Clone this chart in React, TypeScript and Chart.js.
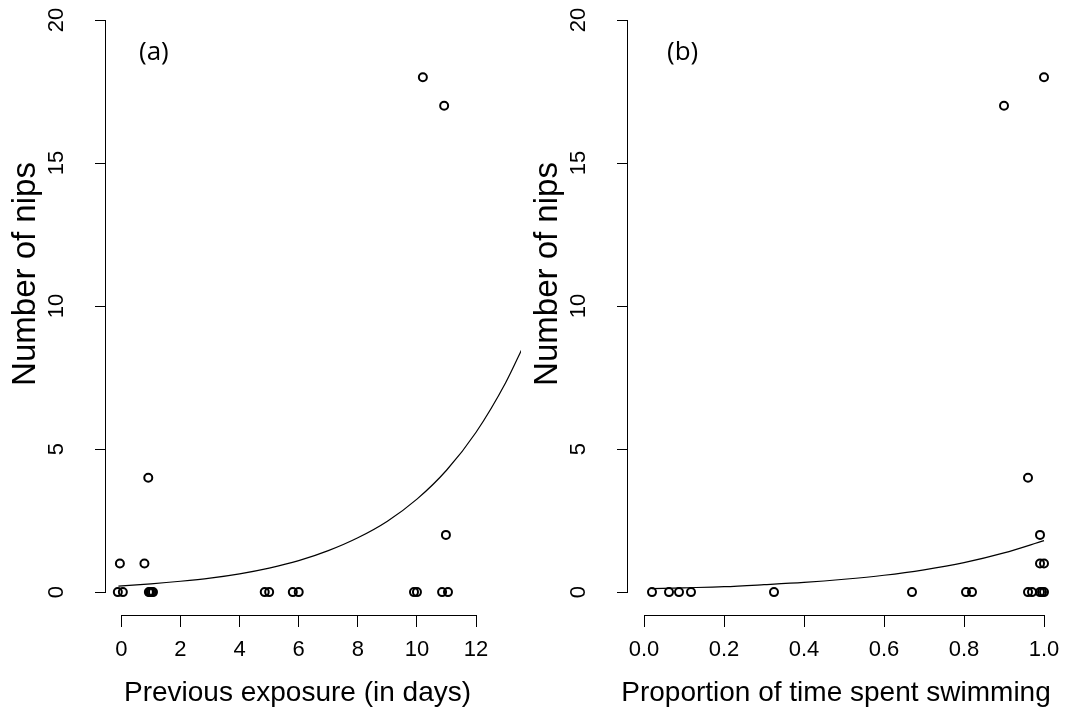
import React, { useEffect, useRef } from "react";
import { Chart, registerables } from "chart.js";
Chart.register(...registerables);

// ---- Panel (a): previous exposure (days) vs number of nips ----
const EXPOSURE_DAYS = [-0.12, 0.05, -0.05, 0.78, 0.91, 0.93, 0.97, 1.02, 1.07, 4.85, 5.0, 5.8, 6.0, 9.9, 10.0, 10.2, 10.92, 10.85, 11.05, 10.98];
const EXPOSURE_NIPS = [0, 0, 1, 1, 4, 0, 0, 0, 0, 0, 0, 0, 0, 0, 0, 18, 17, 0, 0, 2];
const FIT_A_X = [-0.1, 1, 2, 3, 4, 5, 6, 7, 8, 9, 10, 11, 12, 13, 13.6];
const FIT_A_Y = [0.21, 0.29, 0.38, 0.49, 0.64, 0.84, 1.1, 1.45, 1.9, 2.48, 3.25, 4.26, 5.59, 7.32, 8.6];
const X_TICKS_A = [0, 2, 4, 6, 8, 10, 12];

// ---- Panel (b): proportion of time spent swimming vs number of nips ----
const SWIM_PROP = [0.02, 0.0625, 0.0875, 0.1175, 0.325, 0.67, 0.805, 0.82, 0.96, 0.97, 0.99, 0.995, 1.0, 0.99, 1.0, 0.99, 0.96, 0.9, 1.0];
const SWIM_NIPS = [0, 0, 0, 0, 0, 0, 0, 0, 0, 0, 0, 0, 0, 1, 1, 2, 4, 17, 18];
const FIT_B_X = [0.02, 0.1, 0.2, 0.3, 0.4, 0.5, 0.6, 0.7, 0.8, 0.9, 1.0];
const FIT_B_Y = [0.12, 0.15, 0.19, 0.26, 0.34, 0.45, 0.59, 0.78, 1.03, 1.37, 1.8];
const X_TICKS_B = [0, 0.2, 0.4, 0.6, 0.8, 1.0];

const Y_TICKS = [0, 5, 10, 15, 20];
const Y_LABEL = "Number of nips";
const X_LABEL_A = "Previous exposure (in days)";
const X_LABEL_B = "Proportion of time spent swimming";

const FONT = "'Liberation Sans', Arial, sans-serif";

// R-style axis lines (span first..last tick only) and axis titles
const rAxes = {
  id: "rAxes",
  afterDraw(chart: any, _args: any, opts: any) {
    const { ctx, chartArea } = chart;
    const x = chart.scales.x;
    const y = chart.scales.y;
    ctx.save();
    ctx.strokeStyle = "#000";
    ctx.lineWidth = 1;
    ctx.beginPath();
    const xb = Math.round(chartArea.bottom) + 0.5;
    ctx.moveTo(x.getPixelForValue(x.ticks[0].value), xb);
    ctx.lineTo(x.getPixelForValue(x.ticks[x.ticks.length - 1].value), xb);
    const yl = Math.round(chartArea.left) - 0.5;
    ctx.moveTo(yl, y.getPixelForValue(y.ticks[0].value));
    ctx.lineTo(yl, y.getPixelForValue(y.ticks[y.ticks.length - 1].value));
    ctx.stroke();

    ctx.fillStyle = "#000";
    ctx.textAlign = "center";
    ctx.textBaseline = "middle";
    ctx.font = `28px ${FONT}`;
    ctx.fillText(opts.xTitle, (chartArea.left + chartArea.right) / 2 + opts.xShift, 693);

    ctx.translate(chartArea.left - 80, 274);
    ctx.rotate(-Math.PI / 2);
    ctx.font = `33px ${FONT}`;
    ctx.fillText(opts.yTitle, 0, 0);
    ctx.restore();
  },
};

function makeConfig(
  xs: number[], ys: number[], fx: number[], fy: number[],
  xTicks: number[], xMin: number, xMax: number, xLabel: string,
  yAxisWidth: number, rightPad: number, xShift: number, decimals: number
): any {
  const points = xs.map((v, i) => ({ x: v, y: ys[i] }));
  const fit = fx.map((v, i) => ({ x: v, y: fy[i] }));
  return {
    type: "scatter",
    data: {
      datasets: [
        {
          type: "scatter",
          data: points,
          pointStyle: "circle",
          pointRadius: 4,
          borderWidth: 2,
          borderColor: "#000",
          backgroundColor: "rgba(0,0,0,0)",
        },
        {
          type: "line",
          data: fit,
          borderColor: "#000",
          borderWidth: 1.2,
          pointRadius: 0,
          fill: false,
          showLine: true,
          cubicInterpolationMode: "monotone",
        },
      ],
    },
    options: {
      responsive: false,
      animation: false,
      devicePixelRatio: 1,
      events: [],
      layout: { autoPadding: false, padding: { left: 0, top: 0, right: rightPad, bottom: 0 } },
      plugins: {
        legend: { display: false },
        tooltip: { enabled: false },
        rAxes: { xTitle: xLabel, yTitle: Y_LABEL, xShift },
      },
      scales: {
        x: {
          type: "linear",
          min: xMin,
          max: xMax,
          afterBuildTicks: (s: any) => { s.ticks = xTicks.map((v) => ({ value: v })); },
          afterFit: (s: any) => { s.height = 96; s.paddingLeft = 0; s.paddingRight = 0; },
          grid: { display: true, drawOnChartArea: false, drawTicks: true, tickLength: 12, color: "#000", lineWidth: 1 },
          border: { display: false },
          ticks: {
            color: "#000",
            font: { family: FONT, size: 22 },
            padding: 10,
            maxRotation: 0,
            minRotation: 0,
            autoSkip: false,
            callback: (v: number) => v.toFixed(decimals),
          },
          title: { display: false },
        },
        y: {
          type: "linear",
          min: -0.8,
          max: 20.7,
          afterBuildTicks: (s: any) => { s.ticks = Y_TICKS.map((v) => ({ value: v })); },
          afterFit: (s: any) => { s.width = yAxisWidth; s.paddingTop = 0; s.paddingBottom = 0; },
          grid: { display: true, drawOnChartArea: false, drawTicks: true, tickLength: 11, color: "#000", lineWidth: 1 },
          border: { display: false },
          ticks: {
            color: "#000",
            font: { family: FONT, size: 22 },
            padding: 26,
            minRotation: 90,
            maxRotation: 90,
            crossAlign: "center",
            autoSkip: false,
          },
          title: { display: false },
        },
      },
    },
    plugins: [rAxes],
  };
}

export default function App() {
  const refA = useRef<HTMLCanvasElement | null>(null);
  const refB = useRef<HTMLCanvasElement | null>(null);

  useEffect(() => {
    const a = new Chart(
      refA.current as HTMLCanvasElement,
      makeConfig(EXPOSURE_DAYS, EXPOSURE_NIPS, FIT_A_X, FIT_A_Y, X_TICKS_A, -0.52, 13.52, X_LABEL_A, 106, 12, -16, 0)
    );
    const b = new Chart(
      refB.current as HTMLCanvasElement,
      makeConfig(SWIM_PROP, SWIM_NIPS, FIT_B_X, FIT_B_Y, X_TICKS_B, -0.04, 1.04, X_LABEL_B, 95, 6, -8, 1)
    );
    return () => {
      a.destroy();
      b.destroy();
    };
  }, []);

  const panelLabel: React.CSSProperties = {
    position: "absolute",
    fontFamily: "'Open Sans', 'Noto Sans', sans-serif",
    fontSize: 26,
    color: "#000",
    lineHeight: "32px",
  };

  return (
    <div style={{ position: "fixed", left: 0, top: 0, width: 1066, height: 711, background: "#fff", overflow: "hidden" }}>
      <canvas ref={refA} width={533} height={711} style={{ position: "absolute", left: 0, top: 0, width: 533, height: 711 }} />
      <canvas ref={refB} width={533} height={711} style={{ position: "absolute", left: 533, top: 0, width: 533, height: 711 }} />
      <div style={{ ...panelLabel, left: 139, top: 34 }}>(a)</div>
      <div style={{ ...panelLabel, left: 667, top: 34 }}>(b)</div>
    </div>
  );
}
